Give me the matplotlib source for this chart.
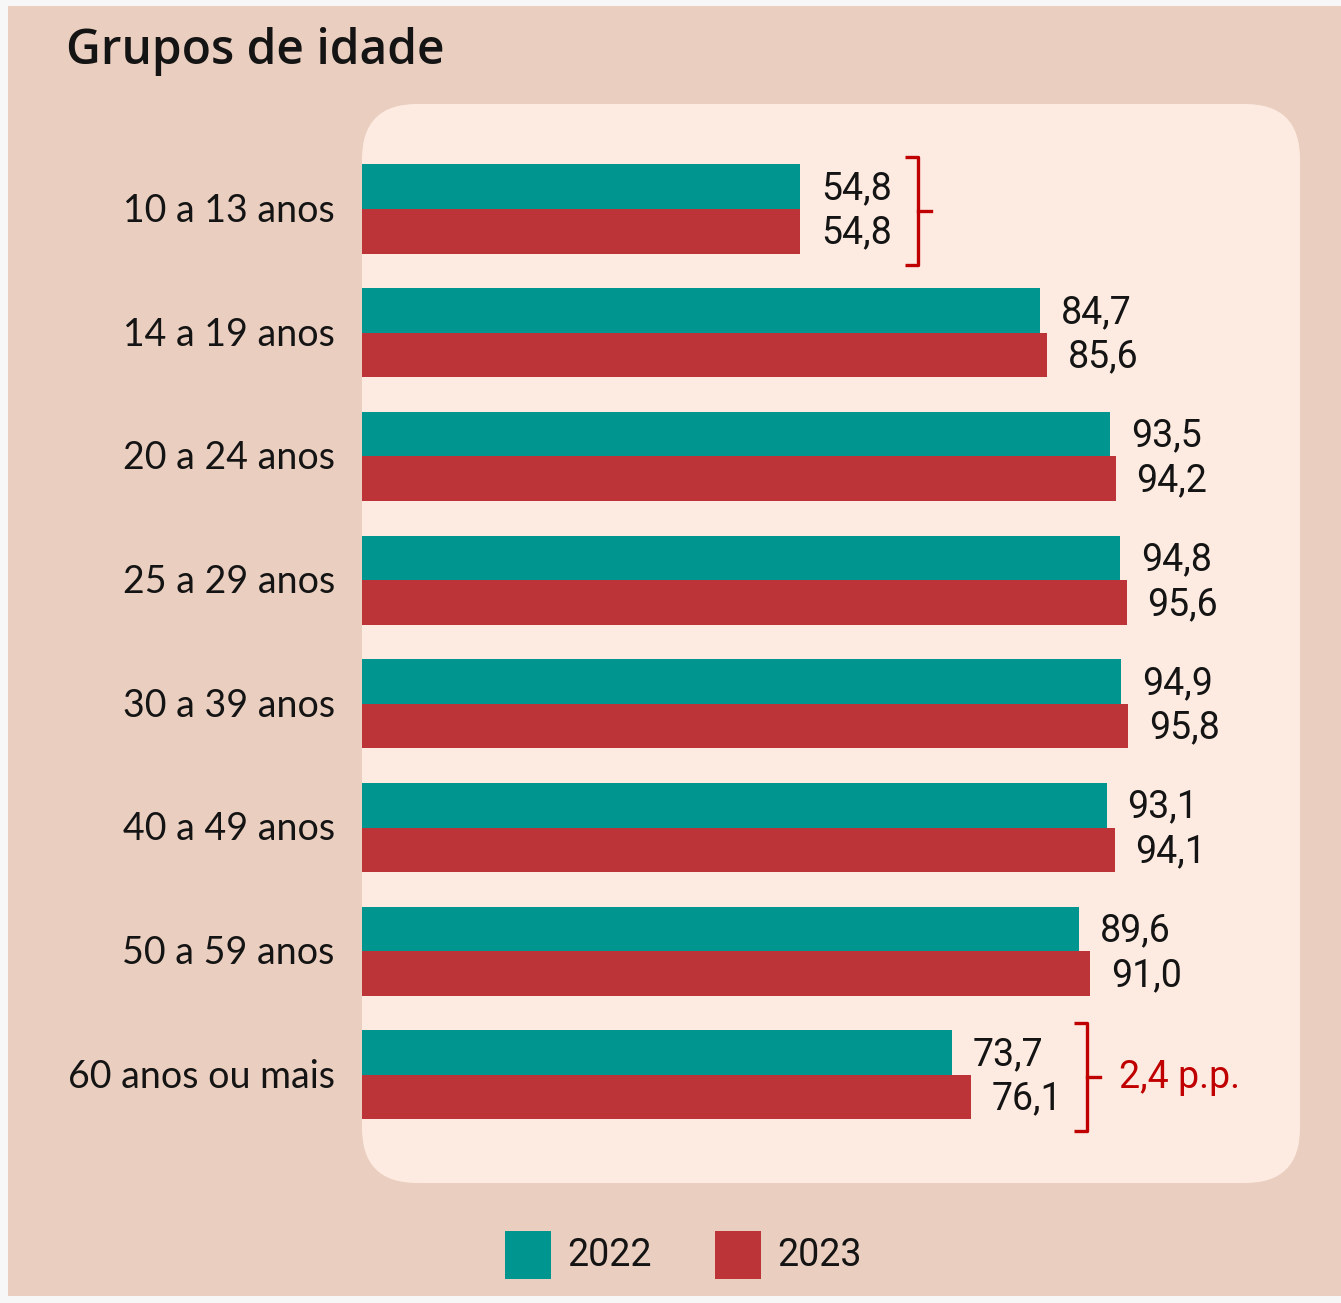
import matplotlib
matplotlib.use("Agg")
import matplotlib.pyplot as plt
from matplotlib.patches import FancyBboxPatch, Rectangle

# data
grupos = ["10 a 13 anos", "14 a 19 anos", "20 a 24 anos", "25 a 29 anos",
          "30 a 39 anos", "40 a 49 anos", "50 a 59 anos", "60 anos ou mais"]
v2022 = [54.8, 84.7, 93.5, 94.8, 94.9, 93.1, 89.6, 73.7]
v2023 = [54.8, 85.6, 94.2, 95.6, 95.8, 94.1, 91.0, 76.1]
anos = ["2022", "2023"]
nota = "2,4 p.p."

TEAL = "#00958E"
RED = "#BC3437"
TAN = "#EACEBF"
PANEL = "#FDEBE2"
BRACKET = "#C00000"
INK = "#141414"

W, H = 1341, 1303
fig = plt.figure(figsize=(W / 100, H / 100), dpi=100, facecolor="#F7F7F7")

# background layer in pixel coords
bg = fig.add_axes([0, 0, 1, 1])
bg.set_xlim(0, W)
bg.set_ylim(H, 0)
bg.axis("off")
bg.add_patch(Rectangle((8, 6), W - 8, 1290, facecolor=TAN, edgecolor="none"))
bg.add_patch(FancyBboxPatch((362 + 55, 104 + 55), 938 - 110, 1079 - 110,
                            boxstyle="round,pad=55", facecolor=PANEL, edgecolor="none"))
bg.text(66, 52, "Grupos de idade", fontsize=34.5, fontfamily="Open Sans", fontweight="semibold",
        color=INK, va="center", ha="left")

# legend
for i, (lab, col) in enumerate(zip(anos, [TEAL, RED])):
    x0 = 505 + i * 210
    bg.add_patch(Rectangle((x0, 1231), 46, 48, facecolor=col, edgecolor="none"))
    bg.text(x0 + 62, 1256, lab, fontsize=27, fontfamily="Roboto", color=INK,
            va="center", ha="left")

# bars axes: 8 px per unit, categories 123.7 px apart
pitch = 123.7
top, bot = 104, 1183
ax = fig.add_axes([362 / W, 1 - bot / H, (1300 - 362) / W, (bot - top) / H])
ax.set_xlim(0, (1300 - 362) / 8)
ax.set_ylim((bot - 209) / pitch, (top - 209) / pitch)
ax.axis("off")

h = 0.36
dy = 0.016
ys = list(range(len(grupos)))
ax.barh([y - h / 2 for y in ys], v2022, height=h, color=TEAL, edgecolor="none")
ax.barh([y + h / 2 for y in ys], v2023, height=h, color=RED, edgecolor="none")

for y, a, b, g in zip(ys, v2022, v2023, grupos):
    ax.text(a + 2.6, y - h / 2 + dy, f"{a:.1f}".replace(".", ","), fontsize=27,
            fontfamily="Roboto", color=INK, va="center", ha="left")
    ax.text(b + 2.6, y + h / 2 + dy, f"{b:.1f}".replace(".", ","), fontsize=27,
            fontfamily="Roboto", color=INK, va="center", ha="left")
    ax.text(-3.4, y + dy, g, fontsize=27, fontfamily="Lato", color=INK,
            va="center", ha="right", clip_on=False)


def bracket(y, x, txt=None):
    y0, y1 = y - 0.42, y + 0.45
    hook = 1.6
    ax.plot([x - hook, x, x, x - hook], [y0, y0, y1, y1], color=BRACKET,
            lw=2.4, solid_joinstyle="round", solid_capstyle="butt")
    ax.plot([x, x + hook], [y + 0.02, y + 0.02], color=BRACKET, lw=2.4)
    if txt:
        ax.text(x + 4.0, y + 0.02, txt, fontsize=27, fontfamily="Roboto",
                color=BRACKET, va="center", ha="left")


bracket(0, max(v2022[0], v2023[0]) + 14.7)
bracket(7, max(v2022[7], v2023[7]) + 14.5, nota)

fig.savefig("out.png", dpi=100, facecolor=fig.get_facecolor())
